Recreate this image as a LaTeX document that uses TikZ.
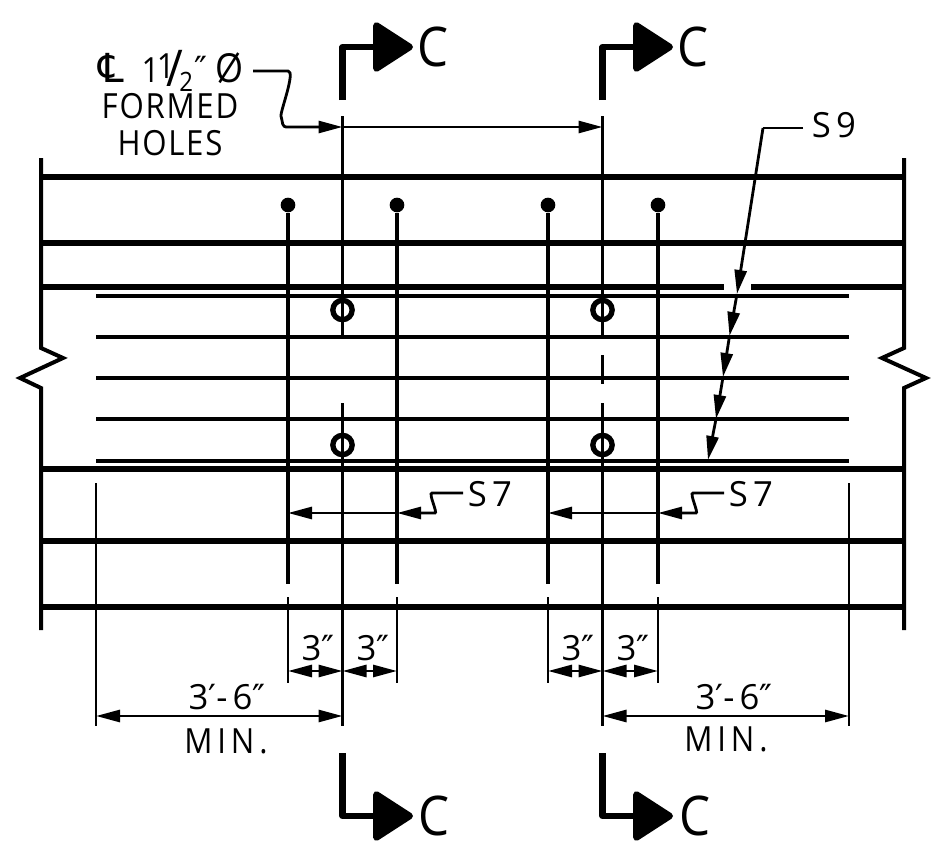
\documentclass[tikz,border=0pt]{standalone}
\usepackage{fontspec}
\setmainfont[FakeStretch=0.9,LetterSpace=5]{Open Sans}
\newfontfamily\widefont[LetterSpace=15]{Open Sans}
\newfontfamily\symfont{DejaVu Sans}
\usetikzlibrary{arrows.meta}
\newcommand{\fracsize}[1]{\fontsize{#1}{#1}\selectfont}
\tikzset{
    heavy/.style = {line width=4.2pt},
    outline/.style = {line width=3pt},
    bar/.style = {line width=3pt},
    barrow/.style = {line width=2.3pt},
    thin line/.style = {line width=2.1pt},
    leader/.style = {line width=2.1pt, rounded corners=3pt},
    tip/.style = {-{Triangle[length=18pt,width=9pt]}},
    tips/.style = {{Triangle[length=18pt,width=9pt]}-{Triangle[length=18pt,width=9pt]}},
    cut/.style = {line width=4.8pt, line join=round, -{Triangle[round,length=32pt,width=40pt]}},
    hole/.style = {circle, draw, line width=4pt, minimum size=14.5pt, inner sep=0pt},
    dot/.style = {circle, fill, minimum size=11pt, inner sep=0pt},
    note/.style = {font=\fontsize{26}{26}\selectfont, inner sep=0pt},
    tag/.style = {font=\fontsize{26}{26}\selectfont\widefont, inner sep=0pt},
    minimum note/.style = {font=\fontsize{26}{26}\selectfont\addfontfeature{LetterSpace=14}, inner sep=0pt},
    cutname/.style = {font=\fontsize{41}{41}\selectfont, inner sep=0pt}
}
\begin{document}
\begin{tikzpicture}[x=0.75pt, y=-0.75pt]
    \useasboundingbox (0,0) rectangle (947,846);
    % place the holes, bar ends and free ends
    \node[hole] (hole-1) at (342.5,310) {};
    \node[hole] (hole-2) at (602.5,310) {};
    \node[hole] (hole-3) at (342.5,445) {};
    \node[hole] (hole-4) at (602.5,445) {};
    \node[dot] (end-1) at (288,205) {};
    \node[dot] (end-2) at (397,205) {};
    \node[dot] (end-3) at (548,205) {};
    \node[dot] (end-4) at (658,205) {};
    % draw the two end lines with their breaks
    \draw[outline] (41,158) -- (41,348) -- (63,358) -- (20,378) -- (41,388) -- (41,630);
    \draw[outline] (904,158) -- (904,348) -- (882,358) -- (926,378) -- (904,388) -- (904,630);
    % draw long lines
    \draw[heavy] (41,177) -- (904,177);
    \draw[heavy] (41,243) -- (904,243);
    \draw[heavy] (41,287) -- (724,287);
    \draw[heavy] (751,287) -- (904,287);
    \draw[heavy] (41,469) -- (904,469);
    \draw[heavy] (41,541) -- (904,541);
    \draw[heavy] (41,607) -- (904,607);
    \draw[barrow] (96,296) -- (849,296);
    \draw[barrow] (96,337) -- (849,337);
    \draw[barrow] (96,378) -- (849,378);
    \draw[barrow] (96,419) -- (849,419);
    \draw[barrow] (96,461) -- (849,461);
    % draw bars and their extension lines
    \draw[bar] (end-1) -- (288,584);
    \draw[bar] (end-2) -- (397,584);
    \draw[bar] (end-3) -- (548,584);
    \draw[bar] (end-4) -- (658,584);
    \draw[thin line] (288,597) -- (288,683);
    \draw[thin line] (397,597) -- (397,683);
    \draw[thin line] (548,597) -- (548,683);
    \draw[thin line] (658,597) -- (658,683);
    % draw center lines
    \draw[thin line] (342.5,116) -- (hole-1.center) -- (342.5,337);
    \draw[thin line] (342.5,403) -- (hole-3.center) -- (342.5,726);
    \draw[thin line] (602.5,116) -- (hole-2.center) -- (602.5,335);
    \draw[thin line] (602.5,355) -- (602.5,384);
    \draw[thin line] (602.5,403) -- (hole-4.center) -- (602.5,726);
    \draw[thin line] (96,483) -- (96,726);
    \draw[thin line] (849,483) -- (849,726);
    % add cut marks
    \draw[cut] (342.5,100) -- (342.5,47) -- (413,47);
    \draw[cut] (602.5,100) -- (602.5,47) -- (673,47);
    \draw[cut] (342.5,753) -- (342.5,816) -- (413,816);
    \draw[cut] (602.5,753) -- (602.5,816) -- (673,816);
    \node[cutname] (cut-1) at (433,47) {C};
    \node[cutname] (cut-2) at (693,47) {C};
    \node[cutname] (cut-3) at (434,816) {C};
    \node[cutname] (cut-4) at (695,816) {C};
    % add formed holes label and its leader
    \node[note] (holes-1) at (171,71) {{\symfont\fontsize{30}{30}\selectfont ℄}\kern13pt 1\kern-2pt\raisebox{3pt}{1}\kern-6pt\raisebox{-3pt}{\fracsize{38}/}\kern-3pt\raisebox{-7pt}{\fracsize{20}2}\kern1pt\raisebox{1pt}{\symfont ″}\kern6pt{\fracsize{30}Ø}};
    \node[note] (holes-2) at (170,106) {FORMED};
    \node[note] (holes-3) at (170,143) {HOLES};
    \coordinate (holes-in) at (253,71);
    \draw[leader, tip] (holes-in) -- (284,71) .. controls (296,71) and (280,112) .. (282,120) .. controls (283,126) and (285,127) .. (290,127) -- (342.5,127);
    \draw[thin line, tip] (342.5,127) -- (602.5,127);
    % add S9 label and its leader
    \node[tag] (s9) at (834,125) {S9};
    \coordinate (s9-bend) at (763,128);
    \coordinate (s9-1) at (737,294);
    \coordinate (s9-2) at (729.5,336);
    \coordinate (s9-3) at (723,377);
    \coordinate (s9-4) at (716,419);
    \coordinate (s9-5) at (708,460);
    \draw[thin line] (803,128) -- (s9-bend);
    \draw[thin line, tip] (s9-bend) -- (s9-1);
    \draw[thin line, tip] (s9-1) -- (s9-2);
    \draw[thin line, tip] (s9-2) -- (s9-3);
    \draw[thin line, tip] (s9-3) -- (s9-4);
    \draw[thin line, tip] (s9-4) -- (s9-5);
    % add S7 labels and their leaders
    \node[tag] (s7-1) at (490,494) {S7};
    \node[tag] (s7-2) at (751,494) {S7};
    \draw[leader, tip] (463,493) -- (436,493) .. controls (428,493) and (438,513) .. (431,513) -- (397,513);
    \draw[leader, tip] (724,493) -- (697,493) .. controls (689,493) and (699,513) .. (692,513) -- (658,513);
    \draw[thin line, tip] (397,513) -- (288,513);
    \draw[thin line, tip] (658,513) -- (548,513);
    % add dimensions
    \draw[thin line, tips] (288,671) -- (342.5,671);
    \draw[thin line, tips] (342.5,671) -- (397,671);
    \draw[thin line, tips] (548,671) -- (602.5,671);
    \draw[thin line, tips] (602.5,671) -- (658,671);
    \draw[thin line, tips] (96,716) -- (342.5,716);
    \draw[thin line, tips] (602.5,716) -- (849,716);
    \node[tag] (dim-1) at (318,648) {3{\symfont ″}};
    \node[tag] (dim-2) at (373,648) {3{\symfont ″}};
    \node[tag] (dim-3) at (578,648) {3{\symfont ″}};
    \node[tag] (dim-4) at (633,648) {3{\symfont ″}};
    \node[tag] (dim-5) at (227,697) {3{\symfont ′}-6{\symfont ″}};
    \node[tag] (dim-6) at (734,697) {3{\symfont ′}-6{\symfont ″}};
    \node[minimum note] (min-1) at (226,741) {MIN.};
    \node[minimum note] (min-2) at (726,739) {MIN.};
\end{tikzpicture}
\end{document}
